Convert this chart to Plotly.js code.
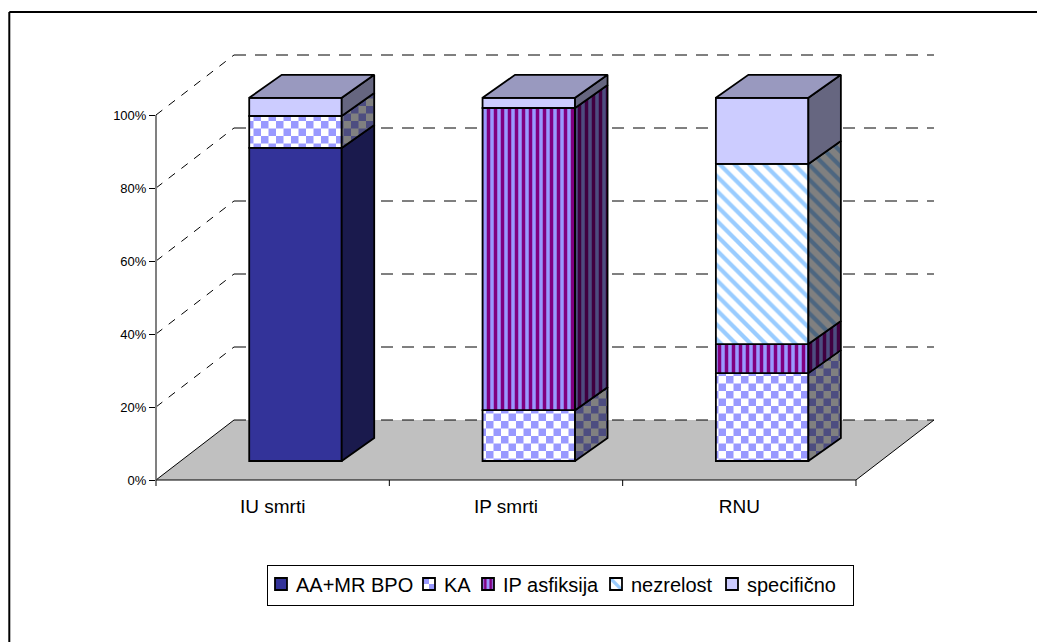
<!DOCTYPE html>
<html><head><meta charset="utf-8">
<script src="https://cdn.plot.ly/plotly-3.0.1.min.js"></script>
<style>html,body{margin:0;padding:0;background:#fff}#c{width:1037px;height:642px}</style>
</head><body><div id="c"></div>
<script>
// ---- data (percent of each category) ----
const categories = ['IU smrti', 'IP smrti', 'RNU'];
const aaMrBpo   = [86.2, 0, 0];
const ka        = [8.8, 14, 24.2];
const ipAsf     = [0, 83.2, 8];
const nezrelost = [0, 0, 49.6];
const specificno= [5, 2.8, 18.2];
const yTicks = [0, 20, 40, 60, 80, 100];
const seriesNames = ['AA+MR BPO', 'KA', 'IP asfiksija', 'nezrelost', 'specifično'];
const seriesValues = [aaMrBpo, ka, ipAsf, nezrelost, specificno];

// ---- geometry and style ----
const W = 1037, H = 642;
const L = 156, B = 480, R = 944, T = 46;      // plot area in page pixels
const UX = 233.33, UY = 3.65;                 // pixels per category / per percent
const xMax = (R - L) / UX, yMax = (B - T) / UY;
const wallDX = 78 / UX, wallDY = 60 / UY;     // depth of the wall/floor
const frontDX = 22.8 / UX, frontDY = 19 / UY; // bar front plane
const barDX = 32.5 / UX, barDY = 23 / UY;     // depth of a bar
const barW = 92.5 / UX, vScale = 0.995;
const CHECK = 15;                             // checkerboard tile size
const styles = [
  {front:{color:'#333399'}, side:{color:'#1A1A4D'}},
  {front:{color:'#ffffff',pat:{shape:'+',size:CHECK,bgcolor:'#ffffff',fgcolor:'#9999FF',solidity:0.5}},
   side:{color:'#808080',pat:{shape:'+',size:CHECK,bgcolor:'#808080',fgcolor:'#4D4D80',solidity:0.5}}},
  {front:{color:'#9999FF',pat:{shape:'|',size:7,bgcolor:'#9999FF',fgcolor:'#800080',solidity:0.5}},
   side:{color:'#4D4D80',pat:{shape:'|',size:7,bgcolor:'#4D4D80',fgcolor:'#400040',solidity:0.5}}},
  {front:{color:'#ffffff',pat:{shape:'\\',size:10.5,bgcolor:'#ffffff',fgcolor:'#99CCFF',solidity:0.4}},
   side:{color:'#808080',pat:{shape:'\\',size:10.5,bgcolor:'#808080',fgcolor:'#4D6680',solidity:0.4}}},
  {front:{color:'#CCCCFF'}, side:{color:'#666680'}}
];
const topColor = '#9999BF';
const faceLine = {color:'#000', width:1.8};
const legendSwatchX = [281, 429, 488, 616, 732]; // swatch centres, page pixels
const legendBox = {x:267, y:565, w:586, h:40};

const traces = [], sideTraces = [];
const cum = categories.map(() => 0);
seriesValues.forEach((vals, s) => {
  const x = [], y = [], base = [];
  vals.forEach((v, i) => {
    if (!v) return;
    const xc = i + 0.5 + frontDX;
    const lo = frontDY + vScale * cum[i], hi = lo + vScale * v;
    x.push(xc); y.push(vScale * v); base.push(lo);
    const xr = xc + barW / 2;
    const side = {
      type:'scatter', mode:'lines', fill:'toself', showlegend:false, hoverinfo:'skip',
      x:[xr, xr + barDX, xr + barDX, xr, xr],
      y:[lo, lo + barDY, hi + barDY, hi, lo],
      line:faceLine, fillcolor:styles[s].side.color
    };
    if (styles[s].side.pat) side.fillpattern = styles[s].side.pat;
    sideTraces.push(side);
    cum[i] += v;
  });
  const marker = {color:styles[s].front.color, line:{color:'#000', width:1.8}};
  if (styles[s].front.pat) marker.pattern = styles[s].front.pat;
  traces.push({type:'bar', name:seriesNames[s], x, y, base, width:barW, marker, hoverinfo:'skip'});
});
// bar tops
categories.forEach((c, i) => {
  const xc = i + 0.5 + frontDX, xl = xc - barW / 2, xr = xc + barW / 2;
  const t = frontDY + vScale * cum[i];
  sideTraces.push({type:'scatter', mode:'lines', fill:'toself', showlegend:false, hoverinfo:'skip',
    x:[xl, xr, xr + barDX, xl + barDX, xl], y:[t, t, t + barDY, t + barDY, t],
    line:faceLine, fillcolor:topColor});
});

// ---- walls, floor, axes as shapes ----
const n = categories.length;
const shapes = [];
shapes.push({type:'path', layer:'below', xref:'x', yref:'y',
  path:`M0,0 L${n},0 L${n + wallDX},${wallDY} L${wallDX},${wallDY} Z`,
  fillcolor:'#C0C0C0', line:{width:0}});
[0, n].forEach(x => shapes.push({type:'line', layer:'below', xref:'x', yref:'y', x0:x, y0:0, x1:x + wallDX, y1:wallDY,
  line:{color:'#000', width:1}}));
yTicks.forEach(t => {
  if (t > 0) shapes.push({type:'line', layer:'below', xref:'x', yref:'y', x0:0, y0:t, x1:wallDX, y1:t + wallDY,
    line:{color:'#000', width:1, dash:'8px,8px'}});
  shapes.push({type:'line', layer:'below', xref:'x', yref:'y', x0:wallDX, y0:t + wallDY,
    x1:n + wallDX, y1:t + wallDY, line:{color:'#000', width:1, dash:'12px,9px'}});
});
const px = v => (v - L) / (R - L), py = v => (B - v) / (B - T);
shapes.push({type:'line', xref:'paper', yref:'paper', x0:0, x1:0, y0:py(B + 6), y1:py(B - 100 * UY), line:{color:'#808080', width:2}});
shapes.push({type:'line', xref:'paper', yref:'paper', x0:0, x1:px(L + n * UX), y0:0, y1:0, line:{color:'#000', width:1}});
for (let i = 1; i <= n; i++) {
  const xp = px(L + i * UX);
  shapes.push({type:'line', xref:'paper', yref:'paper', x0:xp, x1:xp, y0:0, y1:py(B + 6), line:{color:'#000', width:1}});
}
// chart frame: only the top and left edges lie inside the picture
shapes.push({type:'line', xref:'paper', yref:'paper', x0:px(9.3), x1:px(W + 5), y0:py(12), y1:py(12), line:{color:'#000', width:2}});
shapes.push({type:'line', xref:'paper', yref:'paper', x0:px(9.3), x1:px(9.3), y0:py(12), y1:py(H + 5), line:{color:'#000', width:2}});

const font = {family:'"Liberation Sans", Arial, sans-serif', color:'#000'};
const layout = {
  width:W, height:H, showlegend:true,
  margin:{l:L, r:W - R, t:T, b:H - B, pad:0},
  paper_bgcolor:'#fff', plot_bgcolor:'rgba(0,0,0,0)', barmode:'overlay',
  font,
  xaxis:{type:'linear', range:[0, xMax], tickmode:'array', tickvals:categories.map((c, i) => i + 0.5), ticktext:categories,
    showgrid:false, zeroline:false, showline:false, ticks:'outside', ticklen:9, tickcolor:'rgba(0,0,0,0)',
    tickfont:{...font, size:19}, fixedrange:true},
  yaxis:{range:[0, yMax], tickmode:'array', tickvals:yTicks, ticktext:yTicks.map(t => t + '%'),
    showgrid:false, zeroline:false, showline:false, ticks:'outside', ticklen:6, tickcolor:'#000',
    tickfont:{...font, size:13}, fixedrange:true},
  legend:{orientation:'h', x:px(legendBox.x), xanchor:'left', y:py(legendBox.y), yanchor:'top', bgcolor:'#fff',
    bordercolor:'#000', borderwidth:1, font:{...font, size:20}, traceorder:'normal', itemclick:false, itemdoubleclick:false},
  shapes
};

Plotly.newPlot('c', traces.concat(sideTraces), layout, {displayModeBar:false, staticPlot:true}).then(gd => {
  // Plotly has no checkerboard fill: turn the '+' pattern tiles (two-stroke paths) into checks of the same colours.
  gd.querySelectorAll('pattern').forEach(p => {
    const path = p.querySelector('path');
    if (!path) return;
    const strokes = ((path.getAttribute('d') || '').match(/M/g) || []).length;
    if (strokes !== 2) return;
    const fg = path.getAttribute('stroke') || path.style.stroke;
    p.setAttribute('width', CHECK); p.setAttribute('height', CHECK);
    const bgRect = p.querySelector('rect');
    if (bgRect) { bgRect.setAttribute('width', CHECK); bgRect.setAttribute('height', CHECK); }
    [[0, 0], [CHECK / 2, CHECK / 2]].forEach(([x, y]) => {
      const r = document.createElementNS('http://www.w3.org/2000/svg', 'rect');
      r.setAttribute('x', x); r.setAttribute('y', y);
      r.setAttribute('width', CHECK / 2); r.setAttribute('height', CHECK / 2);
      r.setAttribute('fill', fg);
      p.appendChild(r);
    });
    path.remove();
  });
  // Tighten the legend to the reference's compact spacing.
  const leg = gd.querySelector('.legend');
  const bg = leg.querySelector('rect.bg');
  bg.setAttribute('width', legendBox.w); bg.setAttribute('height', legendBox.h);
  leg.querySelectorAll('g.traces').forEach((g, i) => {
    g.setAttribute('transform', `translate(${legendSwatchX[i] - legendBox.x - 20},${legendBox.h / 2 - 1})`);
    g.querySelector('text.legendtext').setAttribute('x', 35);
  });
});
</script></body></html>
